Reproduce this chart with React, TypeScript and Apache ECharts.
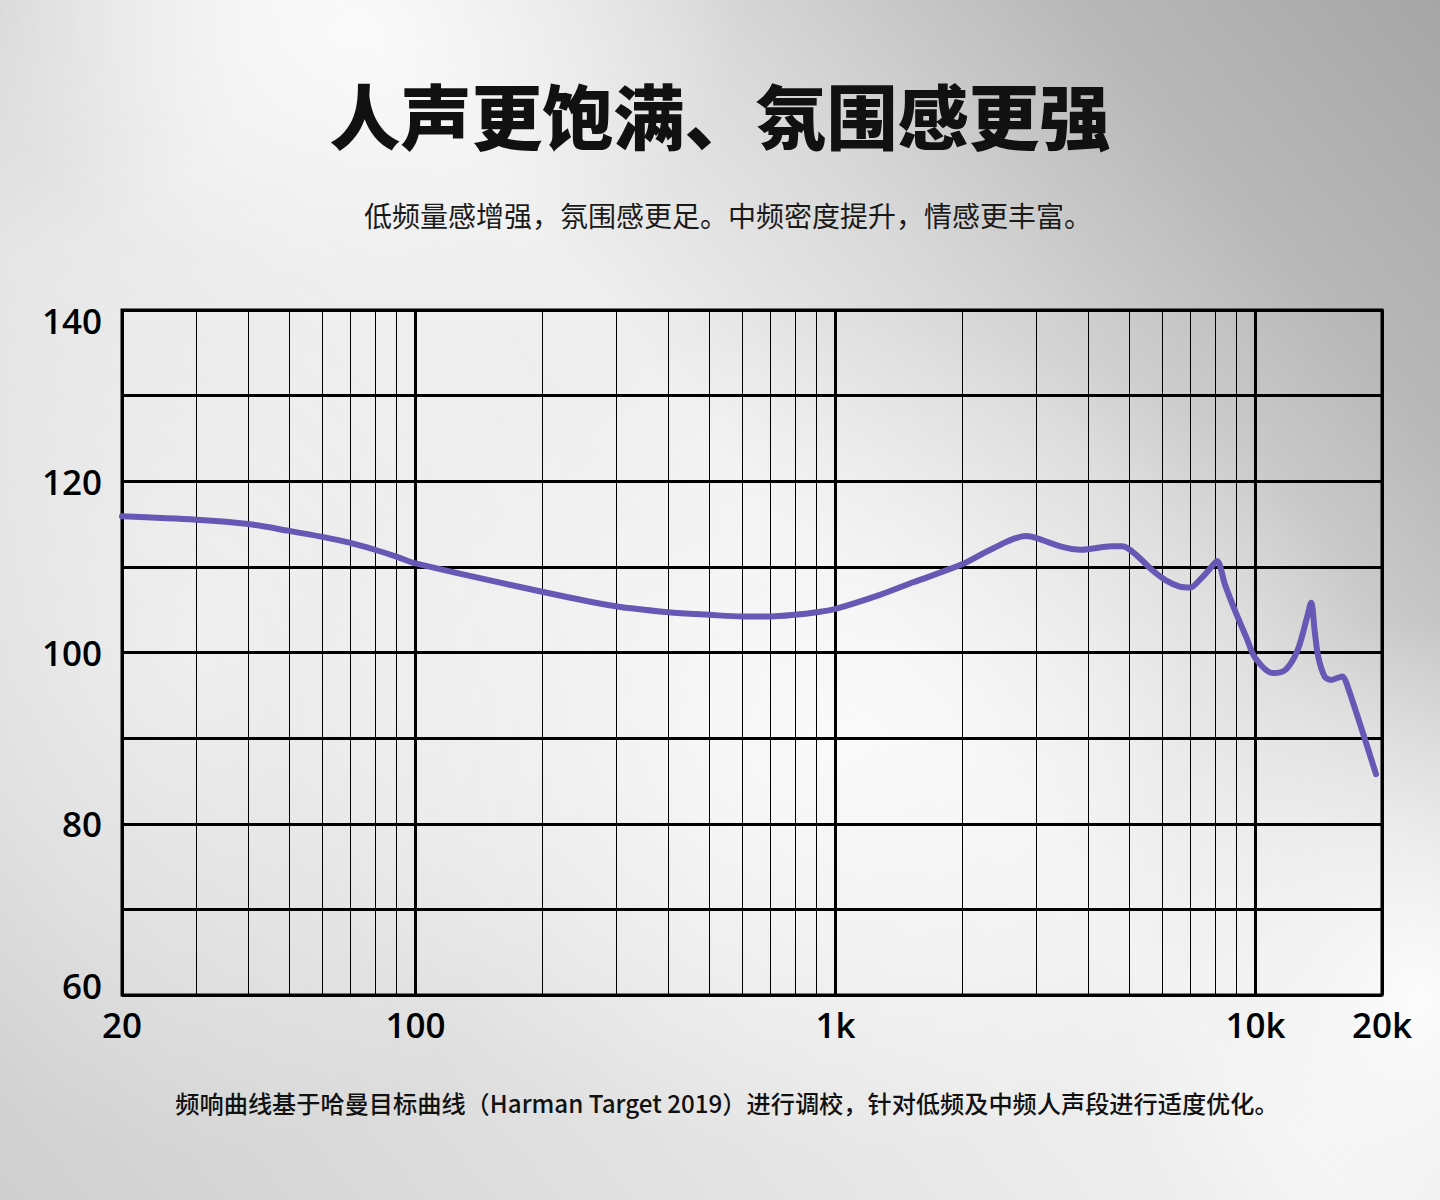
import React, { useEffect, useRef } from "react";
import * as echarts from "echarts";

const TITLE = "人声更饱满、氛围感更强";
const SUBTITLE = "低频量感增强，氛围感更足。中频密度提升，情感更丰富。";
const FOOTNOTE =
  "频响曲线基于哈曼目标曲线（Harman Target 2019）进行调校，针对低频及中频人声段进行适度优化。";

// Frequency response curve (Hz, dB)
const freqHz = [
  20, 30, 40, 50, 60, 70, 80, 90, 100, 200, 300, 400, 500, 600, 700, 800, 900,
  1000, 1270, 1530, 2000, 2356, 2838, 3000, 3430, 3850, 4535, 4820, 5250, 5680,
  6130, 6600, 7000, 7400, 7730, 8095, 8460, 9000, 9500, 10000, 11000, 11800,
  12600, 13260, 13560, 13850, 14100, 14600, 15130, 16090, 16520, 19350,
];
const splDb = [
  115.9, 115.5, 115.0, 114.2, 113.5, 112.8, 112.0, 111.2, 110.4, 107.1, 105.4,
  104.7, 104.4, 104.2, 104.2, 104.4, 104.7, 105.1, 106.7, 108.2, 110.3, 112.1,
  113.6, 113.4, 112.4, 112.0, 112.4, 112.4, 111.2, 109.6, 108.4, 107.7, 107.6,
  108.6, 109.6, 110.7, 107.9, 104.5, 101.8, 99.3, 97.6, 98.0, 100.3, 104.1,
  105.8, 102.2, 99.5, 97.2, 96.8, 97.2, 96.2, 85.8,
];

const minorGridHz = [
  30, 40, 50, 60, 70, 80, 90, 200, 300, 400, 500, 600, 700, 800, 900, 2000,
  3000, 4000, 5000, 6000, 7000, 8000, 9000,
];
const xTickLabels: Record<number, string> = {
  20: "20",
  100: "100",
  1000: "1k",
  10000: "10k",
  20000: "20k",
};
const yTickLabels = [60, 80, 100, 120, 140];

const CJK = '"Noto Sans CJK SC", "Noto Sans", sans-serif';
const NUM = '"Open Sans", "Noto Sans", sans-serif';

export default function App() {
  const ref = useRef<HTMLDivElement>(null);

  useEffect(() => {
    document.body.style.margin = "0";
    if (!ref.current) return;
    const chart = echarts.init(ref.current, undefined, { renderer: "svg" });
    chart.setOption({
      animation: false,
      backgroundColor: "transparent",
      graphic: [
        {
          type: "text",
          x: 720,
          y: 113,
          style: {
            text: TITLE,
            fontSize: 71,
            fontWeight: 900,
            fontFamily: CJK,
            fill: "#111",
            align: "center",
            verticalAlign: "middle",
          },
        },
        {
          type: "text",
          x: 728,
          y: 215,
          style: {
            text: SUBTITLE,
            fontSize: 28,
            fontWeight: 400,
            fontFamily: CJK,
            fill: "#1a1a1a",
            align: "center",
            verticalAlign: "middle",
          },
        },
        {
          type: "text",
          x: 727,
          y: 1102,
          style: {
            text: FOOTNOTE,
            fontSize: 24.2,
            fontWeight: 500,
            fontFamily: CJK,
            fill: "#111",
            align: "center",
            verticalAlign: "middle",
          },
        },
      ],
      grid: {
        left: 122,
        right: 58,
        top: 310,
        bottom: 205,
        show: true,
        borderColor: "#000",
        borderWidth: 3,
        backgroundColor: "transparent",
      },
      xAxis: {
        type: "log",
        logBase: 10,
        min: 20,
        max: 20000,
        axisLine: { show: false },
        axisTick: { show: false },
        splitLine: { show: true, lineStyle: { color: "#000", width: 3 } },
        axisLabel: {
          show: true,
          margin: 12,
          fontSize: 35,
          fontWeight: 600,
          fontFamily: NUM,
          color: "#000",
          showMinLabel: true,
          showMaxLabel: true,
          alignMinLabel: "center",
          alignMaxLabel: "center",
          formatter: (v: number) => xTickLabels[Math.round(v)] ?? "",
        },
      },
      yAxis: {
        type: "value",
        min: 60,
        max: 140,
        interval: 10,
        axisLine: { show: false },
        axisTick: { show: false },
        splitLine: { show: true, lineStyle: { color: "#000", width: 3 } },
        axisLabel: {
          margin: 20,
          fontSize: 35,
          lineHeight: 20,
          fontWeight: 600,
          fontFamily: NUM,
          color: "#000",
          verticalAlignMinLabel: "bottom",
          verticalAlignMaxLabel: "top",
          formatter: (v: number) =>
            yTickLabels.includes(Math.round(v)) ? String(Math.round(v)) : "",
        },
      },
      series: [
        {
          type: "line",
          data: freqHz.map((f, i) => [f, splDb[i]]),
          smooth: 0.3,
          symbol: "none",
          z: 10,
          lineStyle: { color: "#6658b4", width: 6, cap: "round", join: "round" },
          markLine: {
            silent: true,
            z: 1,
            symbol: ["none", "none"],
            label: { show: false },
            lineStyle: { color: "#000", width: 1, type: "solid" },
            emphasis: { disabled: true },
            data: minorGridHz.map((f) => ({ xAxis: f })),
          },
        },
      ],
    });
    return () => chart.dispose();
  }, []);

  return (
    <div
      ref={ref}
      style={{
        position: "absolute",
        left: 0,
        top: 0,
        width: 1440,
        height: 1200,
        background: [
          "radial-gradient(ellipse 300px 380px at 1420px 1000px, rgba(255,255,255,0.9) 0%, rgba(255,255,255,0) 100%)",
          "radial-gradient(ellipse 560px 420px at 840px 740px, rgba(255,255,255,0.7) 0%, rgba(255,255,255,0) 100%)",
          "radial-gradient(ellipse 380px 260px at 360px 30px, rgba(255,255,255,0.7) 0%, rgba(255,255,255,0) 100%)",
          "radial-gradient(ellipse 420px 520px at 200px 640px, rgba(255,255,255,0.45) 0%, rgba(255,255,255,0) 100%)",
          "radial-gradient(circle 260px at 0px 0px, rgba(0,0,0,0.07) 0%, rgba(0,0,0,0) 100%)",
          "linear-gradient(50deg, #cfcfcf 0%, #e0e0e0 25%, #ececec 45%, #efefef 55%, #d8d8d8 70%, #b8b8b8 85%, #a6a6a6 100%)",
        ].join(", "),
      }}
    />
  );
}
